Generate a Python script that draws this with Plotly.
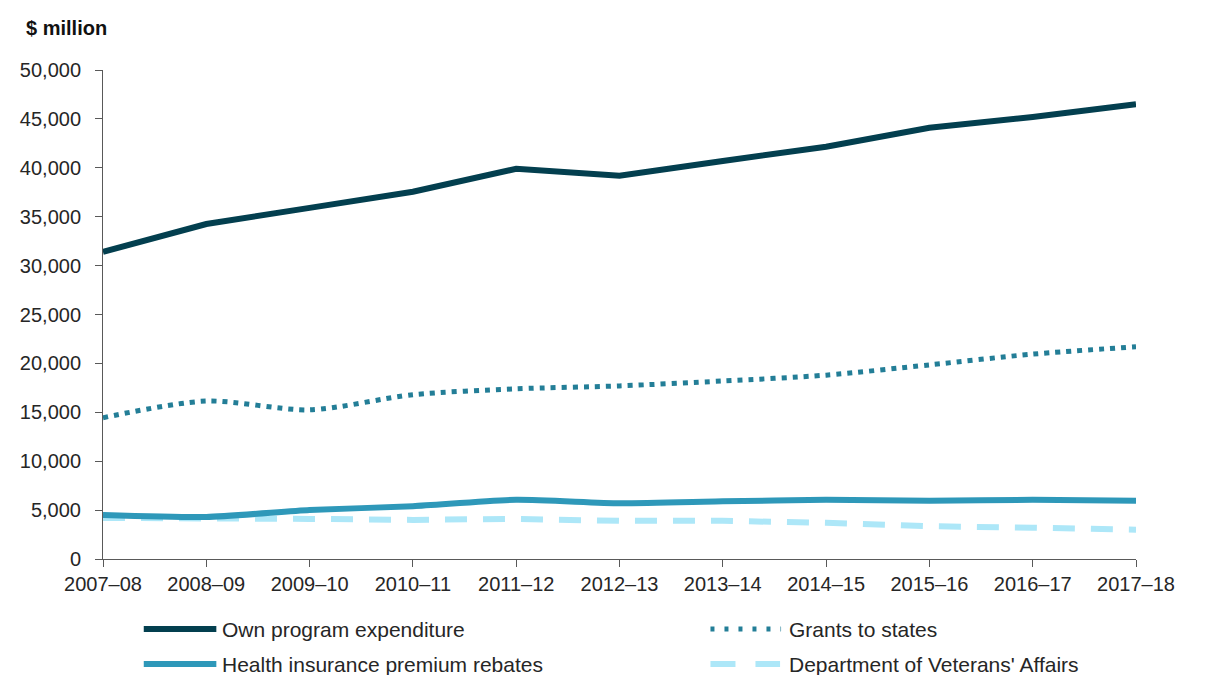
import plotly.graph_objects as go

years = ['2007–08', '2008–09', '2009–10', '2010–11', '2011–12', '2012–13',
         '2013–14', '2014–15', '2015–16', '2016–17', '2017–18']
own_program = [31400, 34250, 35900, 37550, 39900, 39200, 40700, 42150, 44100, 45200, 46500]
grants_states = [14450, 16150, 15250, 16800, 17400, 17700, 18200, 18800, 19850, 20950, 21700]
health_rebates = [4500, 4300, 5000, 5400, 6050, 5700, 5900, 6050, 5950, 6050, 5950]
dva = [4200, 4200, 4100, 4000, 4100, 3900, 3900, 3700, 3350, 3200, 3000]

C_OWN = '#033f4f'
C_GRANT = '#237e97'
C_HEALTH = '#2e98b9'
C_DVA = '#ade7f8'
FONT = 'Liberation Sans, Arial, sans-serif'
TXT = '#262626'

# plot area in page pixels (page has an 8px body margin)
PX0, PX1, PY0, PY1 = 97, 1136, 70, 559
def px(x): return (x - PX0) / (PX1 - PX0)
def py(y): return (PY1 - y) / (PY1 - PY0)

fig = go.Figure()
fig.add_trace(go.Scatter(x=years, y=dva, mode='lines', name="Department of Veterans' Affairs",
                         line=dict(color=C_DVA, width=6, dash='22px,16px')))
fig.add_trace(go.Scatter(x=years, y=health_rebates, mode='lines', name='Health insurance premium rebates',
                         line=dict(color=C_HEALTH, width=6, shape='spline', smoothing=0.6)))
fig.add_trace(go.Scatter(x=years, y=grants_states, mode='lines', name='Grants to states',
                         line=dict(color=C_GRANT, width=5, dash='5px,6px', shape='spline', smoothing=0.8)))
fig.add_trace(go.Scatter(x=years, y=own_program, mode='lines', name='Own program expenditure',
                         line=dict(color=C_OWN, width=6)))

axis_common = dict(showgrid=False, zeroline=False, showline=True, linecolor='#595959', linewidth=1,
                   ticks='outside', ticklen=7, tickcolor='#595959',
                   tickfont=dict(family=FONT, size=20, color=TXT))
fig.update_xaxes(range=[0, 10], **axis_common)
fig.update_yaxes(range=[0, 50000], tickvals=list(range(0, 50001, 5000)),
                 tickformat=',d', ticklabelstandoff=10, **axis_common)

# legend drawn by hand to match the reference layout (two columns, long samples)
legend_items = [
    ('Own program expenditure', C_OWN, 6, None, 138, 211, 217, 629),
    ('Grants to states', C_GRANT, 5, '4px,10px', 708, 779, 787, 629),
    ('Health insurance premium rebates', C_HEALTH, 6, None, 138, 211, 217, 664),
    ("Department of Veterans' Affairs", C_DVA, 6, '25px,20px', 708, 778, 787, 664),
]
for label, col, w, dash, x0, x1, xt, ypx in legend_items:
    fig.add_shape(type='line', xref='paper', yref='paper', x0=px(x0), x1=px(x1), y0=py(ypx), y1=py(ypx),
                  line=dict(color=col, width=w, dash=dash), layer='above')
    fig.add_annotation(xref='paper', yref='paper', x=px(xt), y=py(ypx), text=label, showarrow=False,
                       xanchor='left', yanchor='middle', xshift=-2,
                       font=dict(family=FONT, size=21, color=TXT))

fig.add_annotation(xref='paper', yref='paper', x=px(20), y=py(28), text='<b>$ million</b>',
                   showarrow=False, xanchor='left', yanchor='middle', xshift=-2,
                   font=dict(family=FONT, size=20, color='#111111'))

fig.update_layout(width=1208, height=675, paper_bgcolor='white', plot_bgcolor='white',
                  showlegend=False, margin=dict(l=PX0 - 8, r=1208 - PX1 + 8, t=PY0 - 8, b=675 - PY1 + 8),
                  font=dict(family=FONT, size=20, color=TXT))

fig.write_html('out.html')
